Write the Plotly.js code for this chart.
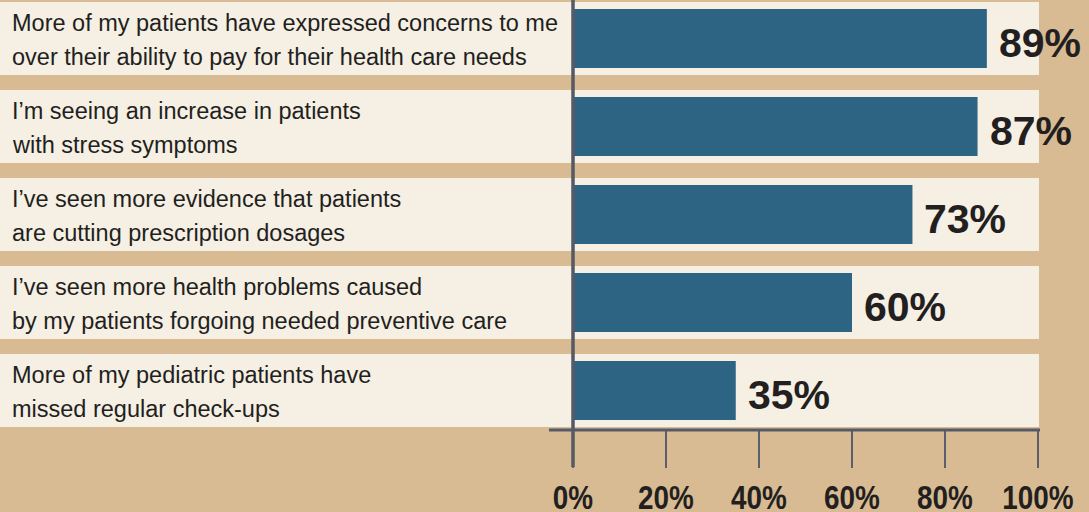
<!DOCTYPE html>
<html>
<head>
<meta charset="utf-8">
<script src="https://cdn.plot.ly/plotly-3.0.1.min.js"></script>
<style>html,body{margin:0;padding:0;background:#D8BB93;}#chart{width:1089px;height:512px;}</style>
</head>
<body>
<div id="chart"></div>
<script>
const categories = [
  "More of my patients have expressed concerns to me\nover their ability to pay for their health care needs",
  "I’m seeing an increase in patients\nwith stress symptoms",
  "I’ve seen more evidence that patients\nare cutting prescription dosages",
  "I’ve seen more health problems caused\nby my patients forgoing needed preventive care",
  "More of my pediatric patients have\nmissed regular check-ups"
];
const values = [89, 87, 73, 60, 35];
const tickValues = [0, 20, 40, 60, 80, 100];
const tickLabels = ["0%", "20%", "40%", "60%", "80%", "100%"];

const W = 1089, H = 512;
const mL = 573, mR = 51, mT = 0, mB = 82;
const plotW = W - mL - mR, plotH = H - mT - mB;
const px2paperX = p => (p - mL) / plotW;
const px2paperY = p => (H - mB - p) / plotH;

const TAN = "#D8BB93", CREAM = "#F5EFE4", BAR = "#2D6383", AXIS = "#555A66", TXT = "#231F20";
const idx = categories.map((_, i) => i);

const shapes = [];
idx.forEach(i => {
  shapes.push({type: "rect", xref: "paper", yref: "y", x0: px2paperX(0), x1: px2paperX(1039),
    y0: i - 0.415, y1: i + 0.415, fillcolor: CREAM, line: {width: 0}, layer: "below"});
});
shapes.push({type: "line", xref: "paper", yref: "paper", x0: px2paperX(549), x1: px2paperX(1040),
  y0: 0, y1: 0, line: {color: AXIS, width: 3}});
shapes.push({type: "line", xref: "paper", yref: "paper", x0: 0, x1: 0,
  y0: px2paperY(467), y1: 1, line: {color: AXIS, width: 3.5}});

const annotations = [];
categories.forEach((c, i) => {
  const lines = c.split("\n");
  lines.forEach((ln, k) => {
    annotations.push({xref: "paper", yref: "y", x: px2paperX(11), y: i, xanchor: "left", yanchor: "middle",
      yshift: k === 0 ? 15.5 : -18.5, text: ln, showarrow: false, align: "left", borderpad: 0,
      font: {family: "Liberation Sans, Arial, sans-serif", size: 23.5, color: TXT}});
  });
  annotations.push({xref: "x", yref: "y", x: values[i], y: i, xanchor: "left", yanchor: "middle",
    xshift: 11, yshift: -4, text: values[i] + "%", showarrow: false, borderpad: 0,
    font: {family: "Liberation Sans, Arial, sans-serif", size: 41, color: TXT, weight: "bold"}});
});

const trace = {
  type: "bar", orientation: "h", x: values, y: idx, width: 0.67,
  marker: {color: BAR, line: {width: 0}}, hoverinfo: "skip", textposition: "none"
};

const layout = {
  width: W, height: H,
  margin: {l: mL, r: mR, t: mT, b: mB, pad: 0},
  paper_bgcolor: TAN, plot_bgcolor: "rgba(0,0,0,0)",
  showlegend: false,
  xaxis: {range: [0, 100], tickvals: tickValues, ticktext: tickLabels, ticks: "outside", ticklen: 37,
    tickwidth: 2, tickcolor: "#5B5F6B", showgrid: false, zeroline: false, showline: false, fixedrange: true,
    tickfont: {family: "Liberation Sans, Arial, sans-serif", size: 34, color: TXT, weight: "bold"}},
  yaxis: {range: [(430 - 38.5) / 88, (0 - 38.5) / 88], visible: false, fixedrange: true},
  shapes: shapes,
  annotations: annotations
};

Plotly.newPlot("chart", [trace], layout, {displayModeBar: false, staticPlot: true}).then(gd => {
  // condense the tick labels horizontally like the reference's narrow typeface
  gd.querySelectorAll(".xtick text").forEach(t => {
    const w = t.getComputedTextLength();
    t.setAttribute("textLength", (w * 0.82).toFixed(1));
    t.setAttribute("lengthAdjust", "spacingAndGlyphs");
  });
});
</script>
</body>
</html>
